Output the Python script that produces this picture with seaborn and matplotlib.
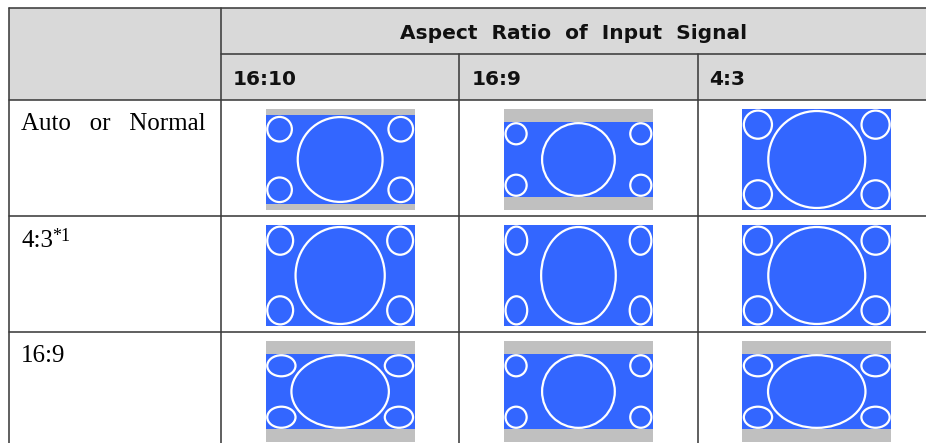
import matplotlib
matplotlib.use("Agg")
import matplotlib.pyplot as plt
from matplotlib.patches import Rectangle, Ellipse
import seaborn as sns

# ================= TABLE CONTENT =================
HEADER = "Aspect  Ratio  of  Input  Signal"
signal_ratios = ["16:10", "16:9", "4:3"]          # columns (input signal)
display_modes = ["Auto   or   Normal", "4:3", "16:9"]  # rows (aspect setting)
mode_notes = ["", "*1", ""]

# height of the blue picture as a share of the frame, rows x columns
picture_fill = [
    [0.875, 0.75, 1.00],
    [1.00, 1.00, 1.00],
    [0.75, 0.75, 0.75],
]
# how wide the test circles end up (width / height)
circle_stretch = [
    [1.00, 1.00, 1.00],
    [0.92, 0.77, 1.00],
    [1.34, 1.00, 1.34],
]
# =================================================

# layout (pixels, figure is 926 x 443 at 100 dpi)
W, H = 926, 443
LEFT, LABEL_W, COL_W = 9, 212, 238.3
TOP, HEAD1, HEAD2, ROW_H = 8, 46, 45.5, 116
FRAME_W, FRAME_H, FRAME_PAD = 149, 101, 9.5

BLUE = "#3366ff"
BAR_GRAY = "#c0c0c0"
HEAD_BG = "#d9d9d9"
RULE = "#3c3c3c"

sns.set_theme(style="white")
plt.rcParams["font.family"] = ["DejaVu Sans"]
SERIF = ["Liberation Serif", "DejaVu Serif"]


def draw_picture(ax, cx, top, fill, stretch):
    x0 = cx - FRAME_W / 2
    frame = Rectangle((x0, top), FRAME_W, FRAME_H, fc=BAR_GRAY, ec="none")
    ax.add_patch(frame)
    band_h = FRAME_H * fill
    by = top + (FRAME_H - band_h) / 2
    ax.add_patch(Rectangle((x0, by), FRAME_W, band_h, fc=BLUE, ec="none"))

    cy = by + band_h / 2
    h = band_h * 0.96
    w = h * stretch
    rings = [Ellipse((cx, cy), w, h)]
    sw, sh = 0.29 * w, 0.29 * h
    for sx in (-1, 1):
        for sy in (-1, 1):
            ex = cx + sx * (FRAME_W / 2 - sw / 2 - 1.6)
            ey = cy + sy * (band_h / 2 - sh / 2 - 1.6)
            rings.append(Ellipse((ex, ey), sw, sh))
    for r in rings:
        r.set_facecolor("none")
        r.set_edgecolor("white")
        r.set_linewidth(1.6)
        ax.add_patch(r)
        r.set_clip_path(frame)


fig = plt.figure(figsize=(W / 100, H / 100), dpi=100)
ax = fig.add_axes([0, 0, 1, 1])
ax.set_xlim(0, W)
ax.set_ylim(H, 0)
ax.axis("off")

col_x = [LEFT + LABEL_W + i * COL_W for i in range(len(signal_ratios) + 1)]
right = col_x[-1]
head_bottom = TOP + HEAD1 + HEAD2
row_y = [head_bottom + i * ROW_H for i in range(len(display_modes) + 1)]

# header background
ax.add_patch(Rectangle((LEFT, TOP), right - LEFT, HEAD1 + HEAD2,
                       fc=HEAD_BG, ec="none"))

# rules
lw = 1.15
ax.plot([LEFT, right], [TOP, TOP], color=RULE, lw=lw)
ax.plot([col_x[0], right], [TOP + HEAD1] * 2, color=RULE, lw=lw)
for y in row_y[:-1]:
    ax.plot([LEFT, right], [y, y], color=RULE, lw=lw)
ax.plot([LEFT, LEFT], [TOP, H + 5], color=RULE, lw=lw)
ax.plot([col_x[0], col_x[0]], [TOP, H + 5], color=RULE, lw=lw)
for x in col_x[1:-1]:
    ax.plot([x, x], [TOP + HEAD1, H + 5], color=RULE, lw=lw)

# header text
ax.text(574, TOP + 30.5, HEADER, fontsize=14.5,
        fontweight="bold", ha="center", va="baseline", color="#111111")
for i, lab in enumerate(signal_ratios):
    ax.text(col_x[i] + 12, TOP + HEAD1 + 30.5, lab, fontsize=14.5,
            fontweight="bold", ha="left", va="baseline", color="#111111")

# rows
fig.canvas.draw()
for r, mode in enumerate(display_modes):
    t = ax.text(LEFT + 12, row_y[r] + 31, mode, family=SERIF, fontsize=18,
                ha="left", va="baseline", color="black")
    if mode_notes[r]:
        bb = t.get_window_extent(renderer=fig.canvas.get_renderer())
        x_end = ax.transData.inverted().transform((bb.x1, bb.y0))[0]
        ax.text(x_end - 0.5, row_y[r] + 25, mode_notes[r], family=SERIF,
                fontsize=13, ha="left", va="baseline", color="black")
    for c in range(len(signal_ratios)):
        cx = (col_x[c] + col_x[c + 1]) / 2
        draw_picture(ax, cx, row_y[r] + FRAME_PAD,
                     picture_fill[r][c], circle_stretch[r][c])

fig.savefig("out.png", dpi=100, facecolor="white")
